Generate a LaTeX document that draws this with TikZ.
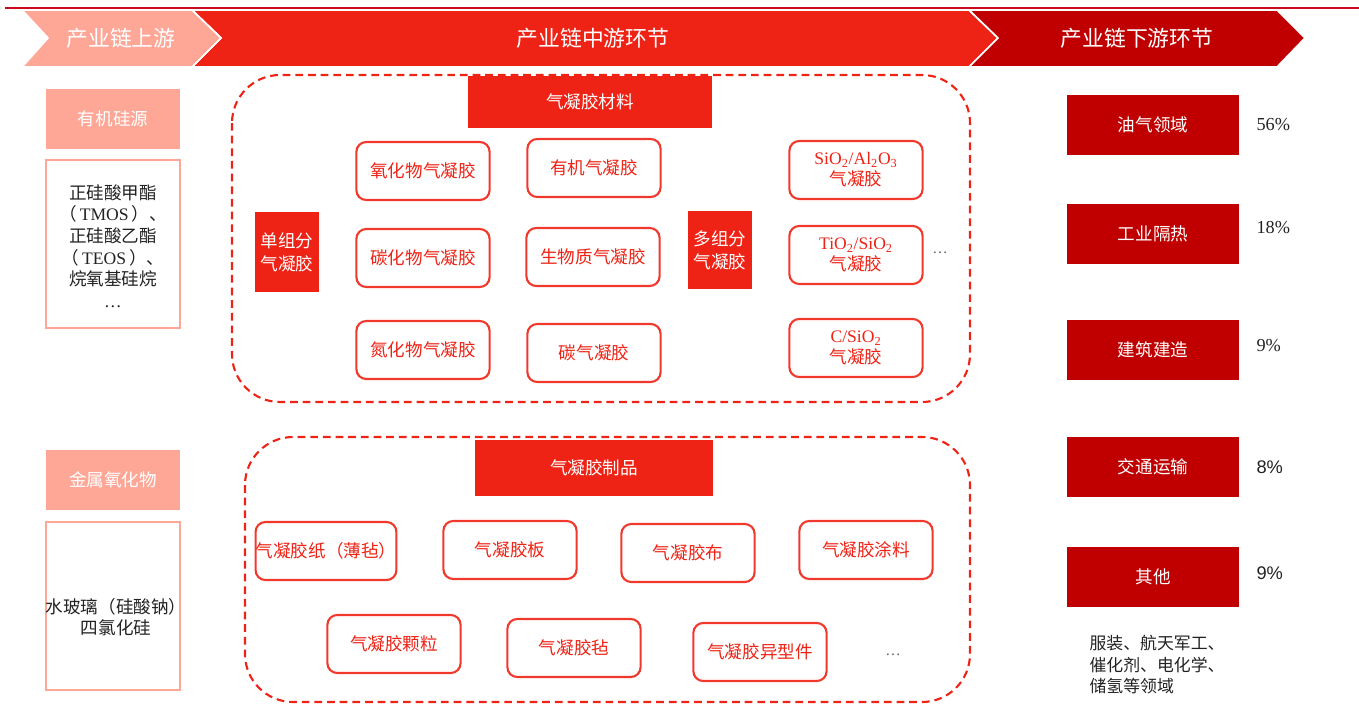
\documentclass[tikz,border=0pt]{standalone}
\usepackage{fontspec}
\setmainfont{Noto Sans CJK SC}
\newfontfamily\lat{Liberation Serif}
\newfontfamily\latsans{Liberation Sans}
\usetikzlibrary{arrows.meta, positioning}
\definecolor{cpink}{HTML}{FFA797}
\definecolor{cred}{HTML}{EE2316}
\definecolor{cbox}{HTML}{F0382C}
\definecolor{cdark}{HTML}{C00000}
\definecolor{cline}{HTML}{CC0A1E}
\definecolor{cink}{HTML}{222222}
\tikzset{
  every picture/.style={line width=1.2pt},
  band/.style={fill=#1, draw=white, line width=1.2pt},
  head/.style={text=white, font=\fontsize{15.5}{18}\selectfont},
  tag/.style={fill=#1, text=white, inner sep=0pt, align=center, font=\fontsize{12.5}{16.5}\selectfont},
  tag/.default=cred,
  zone/.style={draw=cred, dash pattern=on 5.5pt off 3.5pt, line width=1.5pt, rounded corners=1.2cm},
  item/.style={draw=cbox, text=cred, fill=white, rounded corners=7pt, line width=1.5pt, minimum width=3.33cm, minimum height=1.45cm, inner sep=0pt, align=center, font=\fontsize{12.5}{15}\selectfont},
  list/.style={draw=cpink, line width=2pt, minimum width=3.35cm, minimum height=4.2cm, inner sep=0pt},
  note/.style={text=cink, align=center, font=\fontsize{12.5}{15.3}\selectfont},
  dots/.style={text=cink!70, font=\lat\fontsize{11}{13}\selectfont},
}

\begin{document}
\begin{tikzpicture}[x=0.025cm, y=-0.025cm]
  \useasboundingbox (0,0) rectangle (1359,704);
  % chain stages
  \path[band=cred] (192,10) -- (969,10) -- (998,38) -- (969,67) -- (192,67) -- (221,38) -- cycle;
  \path[band=cpink] (22,10) -- (192,10) -- (221,38) -- (192,67) -- (22,67) -- (48,38) -- cycle;
  \path[band=cdark] (969,10) -- (1277,10) -- (1305,38) -- (1277,67) -- (969,67) -- (998,38) -- cycle;
  \draw[cline, line width=2pt] (5,8) -- (1359,8);
  \node[head] (up) at (121,38) {产业链上游};
  \node[head] (mid) at (593,38) {产业链中游环节};
  \node[head] (down) at (1137,38) {产业链下游环节};
  % upstream
  \node[tag=cpink, minimum width=3.35cm, minimum height=1.5cm] (org) at (113,119) {有机硅源};
  \node[list] (orgl) at (113,244) {};
  \node[note] (orgt) at (113,246) {正硅酸甲酯\\（\,{\lat TMOS}\,）、\\正硅酸乙酯\\（\,{\lat TEOS}\,）、\\烷氧基硅烷\\{\lat …}};
  \node[tag=cpink, minimum width=3.35cm, minimum height=1.5cm] (met) at (113,480) {金属氧化物};
  \node[list] (metl) at (113,606) {};
  \node[note] (mett) at (116,617) {水玻璃（硅酸钠）\\四氯化硅};
  % aerogel materials
  \draw[zone] (232,75) rectangle (970,402);
  \node[tag, minimum width=6.12cm, minimum height=1.3cm] (mat) at (590,102) {气凝胶材料};
  \node[tag, minimum width=1.6cm, minimum height=2cm] (one) at (287,252) {单组分\\气凝胶};
  \foreach \x/\y/\t [count=\i] in {423/171/氧化物气凝胶, 594/168/有机气凝胶, 423/258/碳化物气凝胶,
                                   593/257/生物质气凝胶, 423/350/氮化物气凝胶, 594/353/碳气凝胶}
    \node[item] (s\i) at (\x,\y) {\t};
  \node[tag, minimum width=1.6cm, minimum height=1.95cm] (many) at (720,250) {多组分\\气凝胶};
  \node[item] (m1) at (856,170) {{\lat SiO\textsubscript{2}/Al\textsubscript{2}O\textsubscript{3}}\\气凝胶};
  \node[item] (m2) at (856,255) {{\lat TiO\textsubscript{2}/SiO\textsubscript{2}}\\气凝胶};
  \node[item] (m3) at (856,348) {{\lat C/SiO\textsubscript{2}}\\气凝胶};
  \node[dots] (mdots) at (940,253) {…};
  % aerogel products
  \draw[zone] (245,437) rectangle (970,702);
  \node[tag, minimum width=5.95cm, minimum height=1.4cm] (prod) at (594,468) {气凝胶制品};
  \node[item, minimum width=3.52cm] (p1) at (326,551) {气凝胶纸（薄毡）};
  \foreach \x/\y/\t [count=\i from 2] in {510/550/气凝胶板, 688/553/气凝胶布, 866/550/气凝胶涂料,
                                          394/644/气凝胶颗粒, 574/648/气凝胶毡, 760/652/气凝胶异型件}
    \node[item] (p\i) at (\x,\y) {\t};
  \node[dots] (pdots) at (893,655) {…};
  % downstream
  \foreach \y/\t/\q/\p/\f [count=\i] in {125/油气领域/125/56\%/\lat, 234/工业隔热/228/18\%/\lat, 350/建筑建造/346/9\%/\lat,
                                          467/交通运输/467/8\%/\latsans, 577/其他/573/9\%/\latsans} {
    \node[tag=cdark, minimum width=4.3cm, minimum height=1.48cm] (u\i) at (1153,\y) {\t};
    \node[text=cink, anchor=west, font=\f\fontsize{13}{15}\selectfont] (pc\i) at (1251,\q) {\p};
  }
  \node[note, align=left, anchor=north west, font=\fontsize{12}{15.3}\selectfont] (rest) at (1084,630) {服装、航天军工、\\催化剂、电化学、\\储氢等领域};
\end{tikzpicture}
\end{document}
